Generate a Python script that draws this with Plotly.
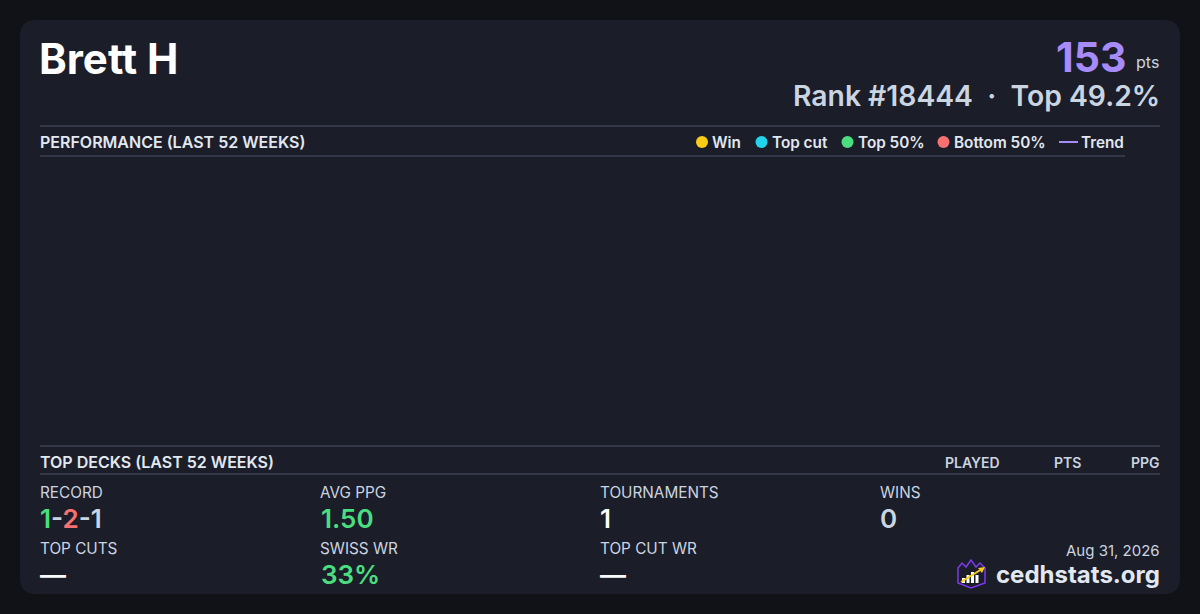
import plotly.graph_objects as go

W, H = 1200, 614

# player summary
player_name = "Brett H"
points = 153
rank = 18444
top_pct = 49.2

# legend of the (empty) performance chart
legend_names = ["Win", "Top cut", "Top 50%", "Bottom 50%"]
legend_colors = ["#facc15", "#22d3ee", "#4ade80", "#f87171"]
legend_dot_x = [702, 761.5, 847.5, 943.5]
trend_name = "Trend"
trend_color = "#a78bfa"

deck_columns = ["PLAYED", "PTS", "PPG"]
deck_column_x = [972, 1067, 1162]

# record: wins - losses - draws
record = [1, 2, 1]
stat_labels = ["RECORD", "AVG PPG", "TOURNAMENTS", "WINS",
               "TOP CUTS", "SWISS WR", "TOP CUT WR"]
avg_ppg = "1.50"
tournaments = "1"
wins = "0"
top_cuts = "—"
swiss_wr = "33%"
top_cut_wr = "—"
date_str = "Aug 31, 2026"
site = "cedhstats.org"

BG = "#111218"
CARD = "#1b1d28"
LINE = "#4a5568"
TXT = "#e2e8f0"
MUTED = "#cbd5e1"
GREEN = "#4ade80"
RED = "#f87171"
FONT = "Inter"


def px(x):
    return x / W


def py(y):
    return 1 - y / H


def path(points, close=True):
    s = "M " + " L ".join(f"{px(x)},{py(y)}" for x, y in points)
    return s + (" Z" if close else "")


fig = go.Figure()
shapes = []
ann = []

# card with rounded corners
x0, y0, x1, y1, r = 20, 20, 1180, 594, 16
card = (f"M {px(x0 + r)},{py(y0)} L {px(x1 - r)},{py(y0)} "
        f"Q {px(x1)},{py(y0)} {px(x1)},{py(y0 + r)} L {px(x1)},{py(y1 - r)} "
        f"Q {px(x1)},{py(y1)} {px(x1 - r)},{py(y1)} L {px(x0 + r)},{py(y1)} "
        f"Q {px(x0)},{py(y1)} {px(x0)},{py(y1 - r)} L {px(x0)},{py(y0 + r)} "
        f"Q {px(x0)},{py(y0)} {px(x0 + r)},{py(y0)} Z")
shapes.append(dict(type="path", xref="paper", yref="paper", path=card,
                   fillcolor=CARD, line=dict(width=0), layer="below"))


def hline(xa, xb, y):
    shapes.append(dict(type="line", xref="paper", yref="paper",
                       x0=px(xa), x1=px(xb), y0=py(y), y1=py(y),
                       line=dict(color=LINE, width=1)))


def text(x, y, s, size, color, weight=400, anchor="left"):
    ann.append(dict(x=px(x), y=py(y), xref="paper", yref="paper", text=s,
                    showarrow=False, xanchor=anchor, yanchor="middle",
                    font=dict(family=FONT, size=size, color=color, weight=weight)))


# header
text(37, 58, player_name, 42, "#ffffff", 700)
text(1128, 57, str(points), 41, trend_color, 700, "right")
text(1161, 62, "pts", 16, MUTED, 400, "right")
text(1162, 96, f"Rank #{rank:d}  ·  Top {top_pct}%", 28.3, MUTED, 600, "right")

# performance section
hline(40, 1160, 126)
hline(40, 1125, 156)
text(38, 142, "PERFORMANCE (LAST 52 WEEKS)", 16, TXT, 600)
for name, col, cx in zip(legend_names, legend_colors, legend_dot_x):
    shapes.append(dict(type="circle", xref="paper", yref="paper",
                       x0=px(cx - 6), x1=px(cx + 6), y0=py(136), y1=py(148),
                       fillcolor=col, line=dict(width=0)))
    text(cx + 8, 142, name, 15.3, TXT, 600)
shapes.append(dict(type="line", xref="paper", yref="paper",
                   x0=px(1059), x1=px(1078), y0=py(142), y1=py(142),
                   line=dict(color=trend_color, width=2)))
text(1079, 142, trend_name, 15.3, TXT, 600)

# top decks section
hline(40, 1160, 446)
hline(40, 1160, 474)
text(38, 462, "TOP DECKS (LAST 52 WEEKS)", 16, TXT, 600)
for name, cx in zip(deck_columns, deck_column_x):
    text(cx, 462, name, 14, MUTED, 600, "right" if cx >= 1150 else "center")

# stats grid
col_x = [38, 318, 598, 878, 38, 318, 598]
row_y = [492, 492, 492, 492, 548, 548, 548]
for lab, cx, ry in zip(stat_labels, col_x, row_y):
    text(cx, ry, lab, 15.3, MUTED, 400)

rec = (f"<span style='color:{GREEN}'>{record[0]}</span>-"
       f"<span style='color:{RED}'>{record[1]}</span>-{record[2]}")
text(38, 518, rec, 26, MUTED, 600)
text(319, 518, avg_ppg, 26, GREEN, 600)
text(598, 518, tournaments, 26, "#f8fafc", 600)
text(878, 518, wins, 26, MUTED, 600)
text(38, 574, top_cuts, 26, "#f8fafc", 600)
text(319, 574, swiss_wr, 26, GREEN, 600)
text(598, 574, top_cut_wr, 26, "#f8fafc", 600)

# footer
text(1162, 550, date_str, 15, MUTED, 400, "right")
text(1162, 574, site, 24, TXT, 700, "right")

# logo: shield with crown, bars and arrow
shield = [(958, 568), (962, 563), (966, 567), (971, 560), (976, 567),
          (980, 563), (985, 568), (985, 583), (971, 588), (958, 583)]
shapes.append(dict(type="path", xref="paper", yref="paper", path=path(shield),
                   fillcolor=CARD, line=dict(color="#7c3aed", width=1.5)))
for bx, top in [(962, 578), (966.5, 575), (971, 572), (975.5, 575)]:
    shapes.append(dict(type="rect", xref="paper", yref="paper",
                       x0=px(bx), x1=px(bx + 3), y0=py(583), y1=py(top),
                       fillcolor="#ffffff", line=dict(width=0)))
shapes.append(dict(type="line", xref="paper", yref="paper",
                   x0=px(961), y0=py(582), x1=px(982), y1=py(569),
                   line=dict(color="#facc15", width=2)))
shapes.append(dict(type="path", xref="paper", yref="paper",
                   path=path([(985, 567), (978, 568), (982, 573)]),
                   fillcolor="#facc15", line=dict(width=0)))

fig.update_layout(
    width=W, height=H,
    margin=dict(l=0, r=0, t=0, b=0),
    paper_bgcolor=BG, plot_bgcolor=BG,
    xaxis=dict(visible=False, range=[0, 1]),
    yaxis=dict(visible=False, range=[0, 1]),
    showlegend=False,
    shapes=shapes,
    annotations=ann,
)

# drop the default page margin so the figure fills the window
fig.write_html("out.html", config={"displayModeBar": False},
               post_script="document.body.style.margin='0';")
